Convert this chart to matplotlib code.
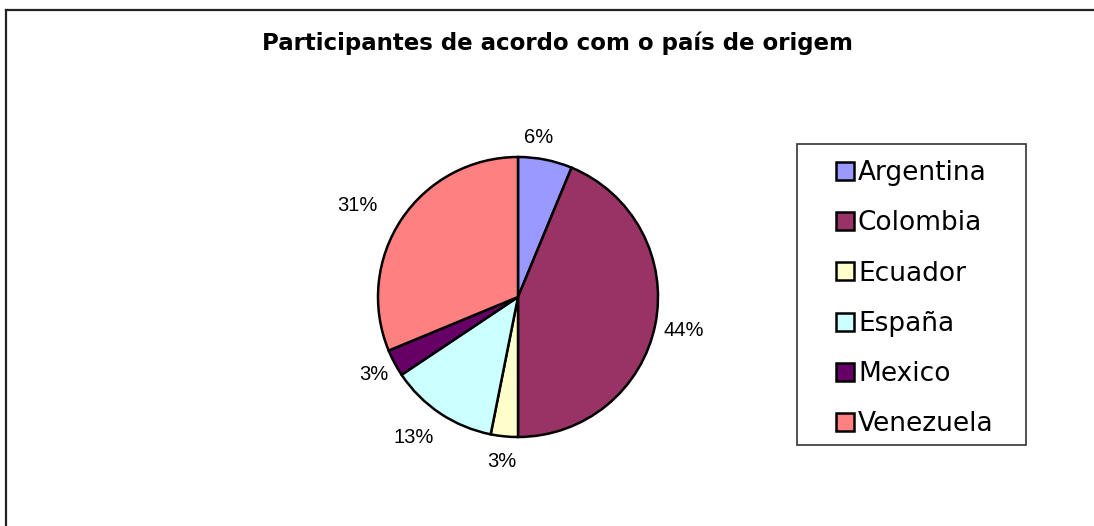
import math
import numpy as np
import matplotlib.pyplot as plt
from matplotlib.lines import Line2D
from matplotlib.patches import Rectangle, Patch

# data
countries = ['Argentina', 'Colombia', 'Ecuador', 'España', 'Mexico', 'Venezuela']
counts = [2, 14, 1, 4, 1, 10]
colors = ['#9999FF', '#993366', '#FFFFCC', '#CCFFFF', '#660066', '#FF8080']
# label placement (radius as fraction of pie radius, angle shift in degrees)
label_dist = [1.15, 1.21, 1.18, 1.25, 1.17, 1.32]
label_shift = [4, 0, 0, -3, 0, 4]
title = 'Participantes de acordo com o país de origem'

W, H = 1094, 526
fig = plt.figure(figsize=(W / 100, H / 100), dpi=100)

# chart area border (only top and left visible)
fig.add_artist(Line2D([6 / W, 1], [1 - 10 / H, 1 - 10 / H], color='#222222', lw=1.6))
fig.add_artist(Line2D([6 / W, 6 / W], [0, 1 - 10 / H], color='#222222', lw=1.6))

fig.text(557 / W, 1 - 43 / H, title, ha='center', va='center',
         fontsize=16.5, fontweight='bold', family='DejaVu Sans')

# pie: center (518, 297) px, radius 140 px -> axes of 2.5R
cx, cy, r = 518, H - 297, 140
side = 2.5 * r
ax = fig.add_axes([(cx - side / 2) / W, (cy - side / 2) / H, side / W, side / H])
wedges, texts, autotexts = ax.pie(
    counts, colors=colors, startangle=90, counterclock=False,
    autopct=lambda p: '%d%%' % math.floor(p + 0.5), pctdistance=1.2,
    wedgeprops=dict(edgecolor='black', linewidth=1.8))
for w, t, d, s in zip(wedges, autotexts, label_dist, label_shift):
    ang = np.deg2rad((w.theta1 + w.theta2) / 2 + s)
    t.set_position((d * np.cos(ang), d * np.sin(ang)))
    t.set_fontsize(14.5)
    t.set_family('Liberation Sans')
    t.set_color('black')
ax.set_aspect('equal')

# legend frame
fig.add_artist(Rectangle((797 / W, 1 - 445 / H), (1026 - 797) / W, (445 - 144) / H,
                         transform=fig.transFigure, fill=False, edgecolor='#333333', lw=1.2))
handles = [Patch(facecolor=c, edgecolor='black', linewidth=1.8) for c in colors]
fig.legend(handles, countries, loc='upper left', bbox_to_anchor=(836 / W, 1 - 160 / H),
           frameon=False, borderpad=0, borderaxespad=0,
           handlelength=0.68, handleheight=0.68, handletextpad=0.15,
           labelspacing=0.92, prop={'family': 'DejaVu Sans', 'size': 19})

fig.savefig('out.png', dpi=100)
